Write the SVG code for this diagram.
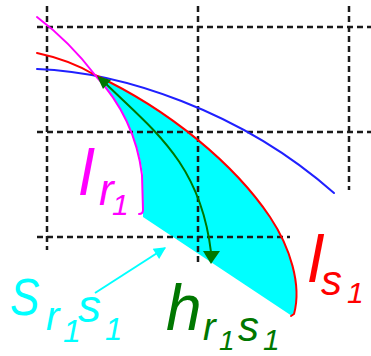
<svg xmlns="http://www.w3.org/2000/svg" width="371" height="356" viewBox="0 0 371 356">
<style>
.grid line{stroke:#1a1a1a;stroke-width:2.5;stroke-dasharray:6 4;fill:none}
.c{fill:none;stroke-width:2;stroke-linecap:round;stroke-linejoin:round}
text{font-family:"Liberation Sans",Arial,sans-serif;font-style:italic}
</style>
<defs>
<marker id="ah" viewBox="0 0 10 10" refX="9" refY="5" markerWidth="7" markerHeight="6" orient="auto" markerUnits="strokeWidth">
<path d="M0,0 L10,5 L0,10 Z" fill="#00ffff"/>
</marker>
</defs>
<rect width="371" height="356" fill="#fff"/>
<g id="region">
<path d="M95,75 C170,110 235,165 270,217 C290,247 302,285 294,314 L292,316 L143,217 L143,175 Q135,118 95,75 Z" fill="#00ffff"/>
</g>
<g id="grid" class="grid">
<line x1="37" y1="27" x2="371" y2="27"/>
<line x1="37" y1="132" x2="371" y2="132"/>
<line x1="37" y1="237" x2="290" y2="237"/>
<line x1="47" y1="6" x2="47" y2="250"/>
<line x1="198" y1="6" x2="198" y2="263"/>
<line x1="349" y1="6" x2="349" y2="190"/>
</g>
<g id="curves">
<path id="blue" class="c" stroke="#2020ff" d="M37,69 C120,72 240,110 334,193"/>
<path id="red" class="c" stroke="#ff0000" d="M37,53 Q70,60 95,75 C170,110 235,165 270,217 C290,247 302,285 294,314 L291,316"/>
<path id="magenta" class="c" stroke="#ff00ff" d="M37,17 Q70,42 95,75 Q135,118 142,175 L143,210 Q143,214 139,214"/>
</g>
<g id="connectors">
<path d="M100,78 C150,128 200,160 211,252" fill="none" stroke="#007700" stroke-width="2"/>
<path d="M203,251 L220,251 L211,264 Z" fill="#007700"/>
<path d="M97,76 L111,80 L103,89 Z" fill="#007700"/>
<line x1="95" y1="293" x2="165" y2="248" stroke="#00ffff" stroke-width="2" marker-end="url(#ah)"/>
</g>
<g id="label-lr1" fill="#ff00ff">
<text x="79" y="195" font-size="64">l</text>
<text x="99" y="205" font-size="44">r</text>
<text x="112" y="215" font-size="30">1</text>
</g>
<g id="label-sr1s1" fill="#00ffff">
<text x="10" y="315" font-size="52" transform="translate(10 0) scale(0.85 1) translate(-10 0)">S</text>
<text x="46" y="330" font-size="40">r</text>
<text x="63" y="342" font-size="32">1</text>
<text x="78" y="322" font-size="46">s</text>
<text x="105" y="340" font-size="31">1</text>
</g>
<g id="label-hr1s1" fill="#007700">
<text x="166" y="330" font-size="64">h</text>
<text x="203" y="340" font-size="38">r</text>
<text x="219" y="350" font-size="28">1</text>
<text x="238" y="341" font-size="42">s</text>
<text x="263" y="350" font-size="30">1</text>
</g>
<g id="label-ls1" fill="#ff0000">
<text x="308" y="282" font-size="66">l</text>
<text x="321" y="295" font-size="42">s</text>
<text x="347" y="303" font-size="30">1</text>
</g>
</svg>
